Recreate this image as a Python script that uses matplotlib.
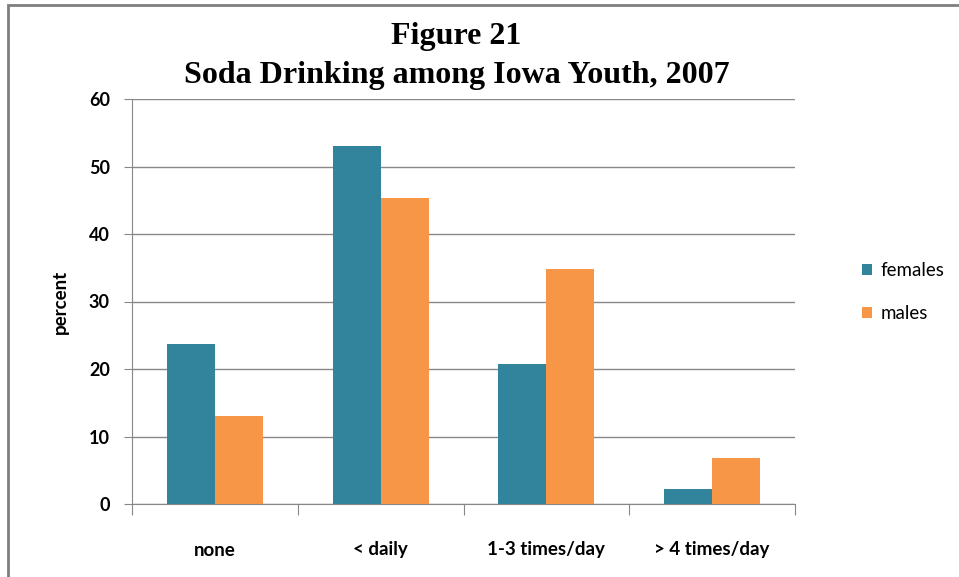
import matplotlib.pyplot as plt
import numpy as np
from matplotlib.patches import Rectangle

categories = ["none", "< daily", "1-3 times/day", "> 4 times/day"]
females = [23.7, 53.0, 20.7, 2.2]
males = [13.0, 45.3, 34.8, 6.8]

teal = "#31849B"
orange = "#F79646"
grid = "#888888"

fig = plt.figure(figsize=(9.59, 5.77), dpi=100, facecolor="white")
# outer chart frame (top and left visible, rest cut off)
fig.patches.append(Rectangle((8 / 959, -0.05), 1.2, 1 - 5 / 577 + 0.05, transform=fig.transFigure,
                             fill=False, edgecolor="#7f7f7f", linewidth=2.0))

ax = fig.add_axes([132 / 959, 1 - 504 / 577, (795 - 132) / 959, (504 - 99) / 577])
x = np.arange(len(categories))
w = 0.29
ax.bar(x - w / 2, females, w, color=teal, label="females", zorder=3)
ax.bar(x + w / 2, males, w, color=orange, label="males", zorder=3)

ax.set_xlim(-0.5, 3.5)
ax.set_ylim(0, 60)
ax.set_yticks(range(0, 61, 10))
ax.yaxis.grid(True, color=grid, linewidth=1.0, zorder=0)
for s in ["top", "right"]:
    ax.spines[s].set_visible(False)
ax.spines["left"].set_color(grid)
ax.spines["bottom"].set_color(grid)

ax.set_xticks(np.arange(-0.5, 3.6, 1))
ax.set_xticklabels([])
ax.tick_params(axis="x", which="major", length=8, color=grid)
ax.set_xticks(x, minor=True)
ax.set_xticklabels(categories, minor=True, fontfamily="Lato", fontweight="bold", fontsize=13.5)
ax.tick_params(axis="x", which="minor", length=0, pad=27)
ax.tick_params(axis="y", length=6, color=grid, pad=10)
for t in ax.get_yticklabels():
    t.set_fontfamily("Lato")
    t.set_fontweight("bold")
    t.set_fontsize(13)

ax.set_ylabel("percent", fontfamily="Lato", fontweight="bold", fontsize=13.5, labelpad=14)

fig.text(0.476, 0.936, "Figure 21", ha="center", va="center", fontfamily="Liberation Serif",
         fontweight="bold", fontsize=23)
fig.text(0.476, 0.870, "Soda Drinking among Iowa Youth, 2007", ha="center", va="center",
         fontfamily="Liberation Serif", fontweight="bold", fontsize=23)

leg = ax.legend(loc="center left", bbox_to_anchor=(845 / 959, 1 - 292 / 577), bbox_transform=fig.transFigure,
                frameon=False, prop={"family": "Lato", "size": 13.5}, handlelength=0.55, handleheight=0.55,
                handletextpad=0.45, labelspacing=1.4)

fig.savefig("out.png", dpi=100)
